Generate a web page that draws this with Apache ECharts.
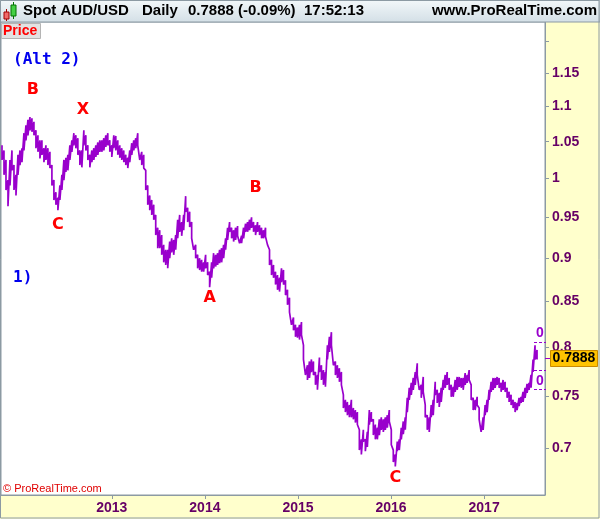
<!DOCTYPE html>
<html><head><meta charset="utf-8">
<script src="https://cdn.jsdelivr.net/npm/echarts@6/dist/echarts.min.js"></script>
<style>html,body{margin:0;padding:0;background:#ffffcc}#c{width:600px;height:519px}</style>
</head><body><div id="c"></div><script>
// Sampling grid of the readings (decimal years, roughly one sample every ~8 days)
const sampleStart = 2011.8204;
const sampleStep = 0.021448;
// Upper and lower edge of the daily price band at each sample
const high = [
1.045,1.038,1.025,0.998,1.025,1.038,1.018,1.005,1.032,1.038,
1.041,1.062,1.073,1.081,1.085,1.083,1.078,1.066,1.059,1.052,
1.052,1.041,1.045,1.041,1.036,1.018,0.998,0.982,0.975,0.991,
1.005,1.025,1.028,1.032,1.045,1.052,1.062,1.059,1.055,1.038,
1.038,1.066,1.059,1.045,1.032,1.038,1.041,1.045,1.049,1.052,
1.052,1.055,1.059,1.062,1.052,1.045,1.059,1.058,1.052,1.045,
1.041,1.038,1.032,1.028,1.038,1.048,1.052,1.055,1.062,1.045,
1.036,1.032,1.011,0.991,0.978,0.972,0.966,0.953,0.937,0.934,
0.928,0.916,0.910,0.910,0.920,0.924,0.922,0.928,0.947,0.953,
0.944,0.953,0.977,0.962,0.957,0.944,0.924,0.916,0.904,0.900,
0.898,0.895,0.904,0.895,0.884,0.895,0.906,0.904,0.906,0.910,
0.912,0.916,0.924,0.937,0.944,0.937,0.934,0.937,0.939,0.928,
0.927,0.937,0.942,0.944,0.947,0.950,0.944,0.940,0.944,0.940,
0.937,0.934,0.937,0.928,0.910,0.898,0.892,0.884,0.880,0.877,
0.888,0.886,0.874,0.863,0.854,0.840,0.832,0.824,0.821,0.824,
0.827,0.802,0.785,0.781,0.785,0.787,0.785,0.774,0.771,0.789,
0.781,0.776,0.774,0.802,0.811,0.816,0.802,0.785,0.781,0.778,
0.774,0.751,0.746,0.744,0.741,0.746,0.738,0.736,0.734,0.717,
0.708,0.717,0.708,0.715,0.736,0.734,0.727,0.722,0.719,0.727,
0.729,0.727,0.729,0.731,0.736,0.717,0.698,0.694,0.706,0.708,
0.719,0.725,0.729,0.748,0.758,0.763,0.768,0.774,0.783,0.771,
0.761,0.769,0.741,0.731,0.729,0.741,0.746,0.764,0.756,0.753,
0.758,0.766,0.771,0.774,0.768,0.761,0.759,0.766,0.769,0.769,
0.768,0.768,0.773,0.771,0.776,0.761,0.748,0.746,0.749,0.738,
0.727,0.729,0.741,0.746,0.756,0.764,0.768,0.768,0.769,0.768,
0.763,0.766,0.764,0.758,0.754,0.751,0.746,0.744,0.743,0.748,
0.749,0.754,0.758,0.762,0.763,0.771,0.787,0.802,0.797];
const low = [
1.025,1.005,0.985,0.964,0.991,1.011,0.985,0.978,1.005,1.018,
1.022,1.038,1.052,1.059,1.066,1.064,1.059,1.041,1.036,1.027,
1.032,1.022,1.025,1.018,1.014,0.991,0.972,0.966,0.959,0.972,
0.985,0.998,1.009,1.011,1.025,1.036,1.045,1.041,1.032,1.018,
1.015,1.045,1.038,1.025,1.015,1.022,1.025,1.029,1.032,1.036,
1.036,1.038,1.043,1.045,1.036,1.029,1.041,1.038,1.032,1.028,
1.025,1.022,1.018,1.014,1.022,1.032,1.038,1.041,1.045,1.025,
1.018,1.014,0.985,0.966,0.959,0.953,0.947,0.928,0.912,0.912,
0.904,0.895,0.892,0.888,0.900,0.907,0.904,0.910,0.924,0.932,
0.927,0.934,0.957,0.944,0.938,0.924,0.910,0.900,0.888,0.886,
0.884,0.884,0.888,0.880,0.866,0.877,0.888,0.890,0.892,0.894,
0.895,0.900,0.910,0.922,0.932,0.924,0.920,0.922,0.927,0.918,
0.918,0.924,0.932,0.932,0.934,0.937,0.932,0.928,0.932,0.928,
0.924,0.924,0.926,0.916,0.892,0.880,0.877,0.869,0.863,0.861,
0.872,0.869,0.857,0.846,0.838,0.824,0.818,0.811,0.810,0.808,
0.813,0.787,0.771,0.766,0.768,0.774,0.771,0.761,0.756,0.774,
0.766,0.761,0.759,0.787,0.795,0.802,0.781,0.771,0.768,0.764,
0.761,0.738,0.734,0.731,0.729,0.729,0.727,0.724,0.722,0.698,
0.694,0.706,0.697,0.701,0.722,0.725,0.712,0.708,0.708,0.712,
0.717,0.715,0.717,0.719,0.725,0.703,0.687,0.683,0.697,0.698,
0.708,0.713,0.717,0.734,0.746,0.751,0.756,0.761,0.771,0.756,
0.748,0.754,0.729,0.717,0.715,0.729,0.731,0.751,0.743,0.739,
0.744,0.756,0.758,0.761,0.756,0.749,0.749,0.754,0.756,0.759,
0.758,0.756,0.761,0.763,0.766,0.746,0.736,0.736,0.741,0.727,
0.715,0.717,0.731,0.734,0.746,0.754,0.756,0.758,0.761,0.758,
0.754,0.756,0.754,0.748,0.744,0.741,0.738,0.734,0.736,0.740,
0.743,0.744,0.748,0.753,0.756,0.758,0.774,0.787,0.787];
const lastPrice = 0.7888;
const lastPriceText = '0.7888';
const yTickValues = [0.7, 0.75, 0.8, 0.85, 0.9, 0.95, 1, 1.05, 1.1, 1.15];
const yTickLabels = ['0.7', '0.75', '0.8', '0.85', '0.9', '0.95', '1', '1.05', '1.1', '1.15'];
const yExtraTicks = [1.2];
const xTickValues = [2013, 2014, 2015, 2016, 2017];
const xTickLabels = ['2013', '2014', '2015', '2016', '2017'];
const waveLabels = ['B', 'X', 'C', 'A', 'B', 'C'];
const waveTimes = [2012.153, 2012.689, 2012.421, 2014.051, 2014.544, 2016.046];
const wavePrices = [1.124, 1.095, 0.940, 0.854, 0.988, 0.673];

const xMin = 2011.8097, xMax = 2017.654;
const yMin = 0.6577, yMax = 1.2304;
const PURPLE = '#9900cc';
const AXIS_TXT = '#660066';
const BORDER = '#8c9aa3';
const SANS = "Arial, 'Liberation Sans', sans-serif";
const MONO = "'DejaVu Sans Mono', monospace";

const bandData = [];
for (let i = 0; i < high.length; i++) {
  const t = sampleStart + i * sampleStep;
  bandData.push([t, high[i]]);
  bandData.push([t, low[i]]);
}
const waveData = waveLabels.map((n, i) => ({ name: n, value: [waveTimes[i], wavePrices[i]] }));

const chart = echarts.init(document.getElementById('c'), null, { renderer: 'canvas' });
chart.setOption({
  backgroundColor: '#ffffcc',
  animation: false,
  grid: { left: 1, right: 55, top: 22, bottom: 24, show: true, backgroundColor: '#ffffff', borderColor: BORDER, borderWidth: 1 },
  xAxis: {
    type: 'value', min: xMin, max: xMax,
    axisLine: { show: true, lineStyle: { color: BORDER } },
    splitLine: { show: false },
    axisTick: { show: true, length: 4, lineStyle: { color: BORDER }, customValues: xTickValues },
    axisLabel: {
      customValues: xTickValues, color: AXIS_TXT, fontWeight: 'bold', fontSize: 14, fontFamily: SANS, margin: 6,
      formatter: v => { const i = xTickValues.findIndex(t => Math.abs(t - v) < 1e-6); return i >= 0 ? xTickLabels[i] : ''; }
    }
  },
  yAxis: {
    type: 'log', logBase: 10, min: yMin, max: yMax, position: 'right',
    axisLine: { show: true, lineStyle: { color: BORDER } },
    splitLine: { show: false },
    axisTick: { show: true, length: 4, lineStyle: { color: BORDER }, customValues: yTickValues.concat(yExtraTicks) },
    axisLabel: {
      customValues: yTickValues, color: AXIS_TXT, fontWeight: 'bold', fontSize: 14, fontFamily: SANS, margin: 7,
      formatter: v => { const i = yTickValues.findIndex(t => Math.abs(t - v) < 1e-6); return i >= 0 ? yTickLabels[i] : ''; }
    }
  },
  series: [
    { type: 'line', data: bandData, showSymbol: false, symbol: 'none', clip: true,
      lineStyle: { color: PURPLE, width: 1.7 }, z: 3 },
    { type: 'scatter', data: waveData, symbolSize: 1, itemStyle: { color: 'rgba(0,0,0,0)' }, silent: true, z: 5,
      label: { show: true, position: 'inside', formatter: '{b}', color: '#ff0000', opacity: 1,
               textBorderWidth: 0, textShadowBlur: 0, fontWeight: 'bold', fontSize: 16, fontFamily: "'DejaVu Sans', sans-serif" } }
  ]
});

const py = chart.convertToPixel({ yAxisIndex: 0 }, lastPrice);
chart.setOption({
  graphic: { elements: [
    { type: 'rect', shape: { x: 0, y: 0, width: 600, height: 22 }, z: 10,
      style: { fill: new echarts.graphic.LinearGradient(0, 0, 0, 1, [{ offset: 0, color: '#f3f8fa' }, { offset: 1, color: '#d3dfe6' }]), stroke: BORDER, lineWidth: 1 } },
    { type: 'line', shape: { x1: 6.5, y1: 9, x2: 6.5, y2: 21 }, z: 11, style: { stroke: '#a00000', lineWidth: 1 } },
    { type: 'rect', shape: { x: 4, y: 12, width: 5, height: 7 }, z: 12, style: { fill: '#f06a6a', stroke: '#a00000', lineWidth: 1 } },
    { type: 'line', shape: { x1: 13.5, y1: 2, x2: 13.5, y2: 19 }, z: 11, style: { stroke: '#007000', lineWidth: 1 } },
    { type: 'rect', shape: { x: 11, y: 5, width: 5, height: 11 }, z: 12, style: { fill: '#44d044', stroke: '#007000', lineWidth: 1 } },
    { type: 'text', x: 23, y: 11, z: 12, style: { text: 'Spot AUD/USD', font: 'bold 15px ' + SANS, fill: '#000', verticalAlign: 'middle' } },
    { type: 'text', x: 142, y: 11, z: 12, style: { text: 'Daily', font: 'bold 15px ' + SANS, fill: '#000', verticalAlign: 'middle' } },
    { type: 'text', x: 188, y: 11, z: 12, style: { text: '0.7888 (-0.09%)', font: 'bold 15px ' + SANS, fill: '#000', verticalAlign: 'middle' } },
    { type: 'text', x: 304, y: 11, z: 12, style: { text: '17:52:13', font: 'bold 15px ' + SANS, fill: '#000', verticalAlign: 'middle' } },
    { type: 'text', x: 597, y: 11, z: 12, style: { text: 'www.ProRealTime.com', font: 'bold 15px ' + SANS, fill: '#000', align: 'right', verticalAlign: 'middle' } },
    { type: 'rect', shape: { x: 1.5, y: 23.5, width: 39, height: 15 }, z: 10, style: { fill: '#e2e2e2', stroke: '#b4b4b4', lineWidth: 1 } },
    { type: 'text', x: 3, y: 31.5, z: 11, style: { text: 'Price', font: 'bold 14px ' + SANS, fill: '#ff0000', verticalAlign: 'middle' } },
    { type: 'text', x: 13, y: 60, z: 11, style: { text: '(Alt 2)', font: 'bold 16px ' + MONO, fill: '#0000ee', verticalAlign: 'middle' } },
    { type: 'text', x: 13, y: 278, z: 11, style: { text: '1)', font: 'bold 16px ' + MONO, fill: '#0000ee', verticalAlign: 'middle' } },
    { type: 'text', x: 3, y: 489, z: 11, style: { text: '\u00a9 ProRealTime.com', font: '11px ' + SANS, fill: '#e00000', verticalAlign: 'middle' } },
    { type: 'line', shape: { x1: 534, y1: 342.5, x2: 546, y2: 342.5 }, z: 11, style: { stroke: PURPLE, lineWidth: 1, lineDash: [3, 2] } },
    { type: 'line', shape: { x1: 534, y1: 370.5, x2: 546, y2: 370.5 }, z: 11, style: { stroke: PURPLE, lineWidth: 1, lineDash: [3, 2] } },
    { type: 'line', shape: { x1: 534, y1: 389.5, x2: 546, y2: 389.5 }, z: 11, style: { stroke: PURPLE, lineWidth: 1, lineDash: [3, 2] } },
    { type: 'text', x: 540, y: 333, z: 11, style: { text: '0', font: 'bold 14px ' + SANS, fill: PURPLE, align: 'center', verticalAlign: 'middle' } },
    { type: 'text', x: 540, y: 381, z: 11, style: { text: '0', font: 'bold 14px ' + SANS, fill: PURPLE, align: 'center', verticalAlign: 'middle' } },
    { type: 'line', shape: { x1: 545, y1: Math.round(py) + 0.5, x2: 551, y2: Math.round(py) + 0.5 }, z: 12, style: { stroke: PURPLE, lineWidth: 1 } },
    { type: 'rect', shape: { x: 550.5, y: Math.round(py) - 7.5, width: 47, height: 16 }, z: 12, style: { fill: '#ffc400', stroke: '#c98a00', lineWidth: 1 } },
    { type: 'text', x: 574, y: Math.round(py) + 0.5, z: 13, style: { text: lastPriceText, font: 'bold 14px ' + SANS, fill: '#000', align: 'center', verticalAlign: 'middle' } },
    { type: 'rect', shape: { x: 0.5, y: 0.5, width: 598.5, height: 517.5 }, z: 20, silent: true, style: { fill: 'none', stroke: BORDER, lineWidth: 1 } }
  ] }
});
</script></body></html>
